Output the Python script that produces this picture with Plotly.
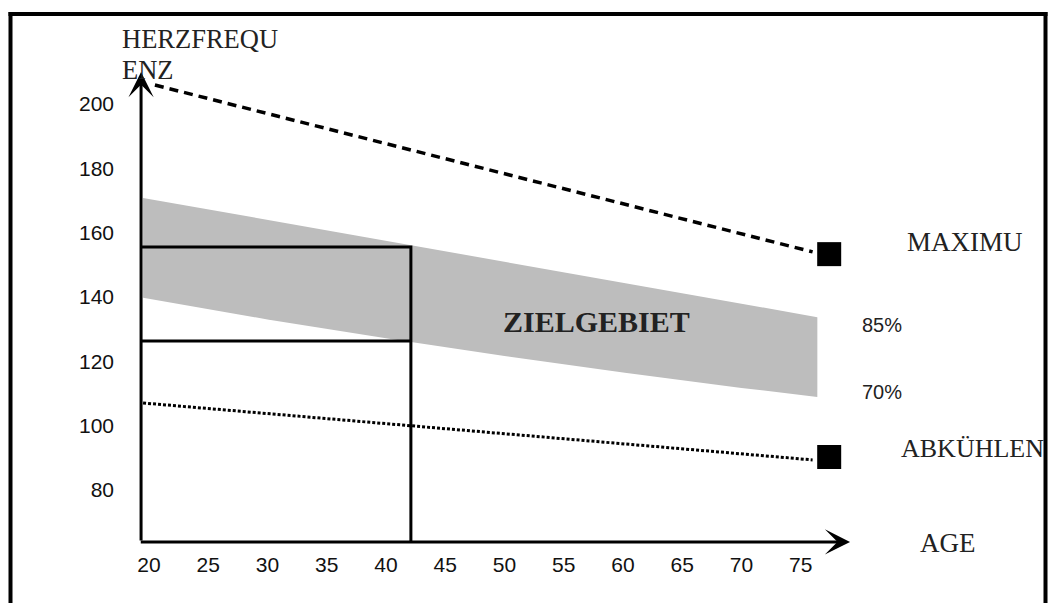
import plotly.graph_objects as go

# ---------------- data ----------------
age_ticks = [20, 25, 30, 35, 40, 45, 50, 55, 60, 65, 70, 75]
hr_ticks = [80, 100, 120, 140, 160, 180, 200]

band_age = [19.5, 30, 40, 45, 50, 60, 70, 76.4]
band_upper = [170.8, 164.0, 157.4, 154.2, 150.9, 144.4, 137.9, 133.7]   # 85 %
band_lower = [139.7, 133.0, 127.1, 124.3, 121.6, 116.5, 111.7, 108.9]   # 70 %

max_age = [20.5, 76.0]
max_hr = [205.9, 154.0]
cool_age = [19.5, 76.0]
cool_hr = [107.0, 89.3]
end_age = [77.4, 77.4]
end_hr = [153.3, 90.2]

target_age = 42.1
target_top = 155.5
target_mid = 126.3

axis_age0 = 19.33
axis_hr0 = 63.8
axis_age_end = 79.16
axis_hr_end = 209.95

# ---------------- layout helpers ----------------
W, H = 1049, 603
PL, PR, PT, PB = 141, 1049, 0, 542      # plot area in window pixels
PW, PH = PR - PL, PB - PT


def PX(px):
    return (px - PL) / PW


def PY(py):
    return (PB - py) / PH


fig = go.Figure()

# gray target band
fig.add_trace(go.Scatter(
    x=band_age + band_age[::-1], y=band_upper + band_lower[::-1],
    fill="toself", fillcolor="#bdbdbd", mode="lines", line=dict(width=0),
    hoverinfo="skip", showlegend=False))

# target rectangle
fig.add_trace(go.Scatter(
    x=[axis_age0, target_age, target_age], y=[target_top, target_top, axis_hr0 - 1],
    mode="lines", line=dict(color="black", width=3), showlegend=False))
fig.add_trace(go.Scatter(
    x=[axis_age0, target_age], y=[target_mid, target_mid],
    mode="lines", line=dict(color="black", width=3), showlegend=False))

# maximum (dashed)
fig.add_trace(go.Scatter(
    x=max_age, y=max_hr, mode="lines",
    line=dict(color="black", width=3.5, dash="9px,6px"), showlegend=False))
# cool down (dotted)
fig.add_trace(go.Scatter(
    x=cool_age, y=cool_hr, mode="lines",
    line=dict(color="black", width=3, dash="3px,2px"), showlegend=False))
# end squares
fig.add_trace(go.Scatter(
    x=end_age, y=end_hr, mode="markers",
    marker=dict(symbol="square", size=24, color="black"),
    cliponaxis=False, showlegend=False))

ann = []
# axis arrows
ann.append(dict(x=axis_age_end, y=axis_hr0, ax=axis_age0 - 0.15, ay=axis_hr0,
                xref="x", yref="y", axref="x", ayref="y", text="",
                showarrow=True, arrowhead=3, arrowwidth=3, arrowsize=1.4,
                arrowcolor="black"))
ann.append(dict(x=axis_age0, y=axis_hr_end, ax=axis_age0, ay=axis_hr0,
                xref="x", yref="y", axref="x", ayref="y", text="",
                showarrow=True, arrowhead=3, arrowwidth=3, arrowsize=1.4,
                arrowcolor="black"))

serif = "Liberation Serif"
sans = "Liberation Sans"
txtc = "#222222"


def label(text, px, py, size, family=serif, xanchor="left", bold=False):
    t = f"<b>{text}</b>" if bold else text
    ann.append(dict(x=PX(px), y=PY(py), xref="paper", yref="paper", text=t,
                    showarrow=False, xanchor=xanchor, yanchor="middle",
                    font=dict(family=family, size=size, color=txtc)))


label("HERZFREQU", 120, 39, 26.5)
label("ENZ", 120, 70, 26.5)
label("MAXIMU", 905, 242, 27)
label("85%", 860, 325, 20, family=sans)
label("70%", 860, 392, 20, family=sans)
label("ABKÜHLEN", 899, 448, 26)
label("AGE", 918, 543, 27)
label("ZIELGEBIET", 596, 322, 30, xanchor="center", bold=True)

# frame
shapes = [
    dict(type="line", xref="paper", yref="paper", x0=PX(8.5), x1=PX(1047.5),
         y0=PY(14), y1=PY(14), line=dict(color="black", width=4), layer="above"),
    dict(type="line", xref="paper", yref="paper", x0=PX(10.5), x1=PX(10.5),
         y0=PY(12), y1=PY(620), line=dict(color="black", width=4), layer="above"),
    dict(type="line", xref="paper", yref="paper", x0=PX(1045.5), x1=PX(1045.5),
         y0=PY(12), y1=PY(620), line=dict(color="black", width=4), layer="above"),
]

# axis range from window pixels (20 yrs -> x=149, 11.85 px/yr; 200 bpm -> y=104, 3.215 px/bpm)
x_range = [20 + (PL - 149) / 11.85, 20 + (PR - 149) / 11.85]
y_range = [200 - (PB - 104) / 3.215, 200 - (PT - 104) / 3.215]

fig.update_layout(
    template="none",
    width=W, height=H,
    margin=dict(l=PL, r=W - PR, t=PT, b=H - PB, pad=0),
    paper_bgcolor="white", plot_bgcolor="white",
    showlegend=False,
    hovermode=False,
    annotations=ann, shapes=shapes,
    xaxis=dict(range=x_range, tickvals=age_ticks, showgrid=False,
               zeroline=False, showline=False, ticks="", automargin=False,
               ticklabelstandoff=8,
               tickfont=dict(family=sans, size=21, color="#111111")),
    yaxis=dict(range=y_range, tickvals=hr_ticks, showgrid=False,
               zeroline=False, showline=False, ticks="", automargin=False,
               ticklabelstandoff=26,
               tickfont=dict(family=sans, size=21, color="#111111")),
)

fig.write_html(
    "out.html",
    config={"displayModeBar": False},
    post_script="document.body.style.margin='0';document.body.style.overflow='hidden';",
)
